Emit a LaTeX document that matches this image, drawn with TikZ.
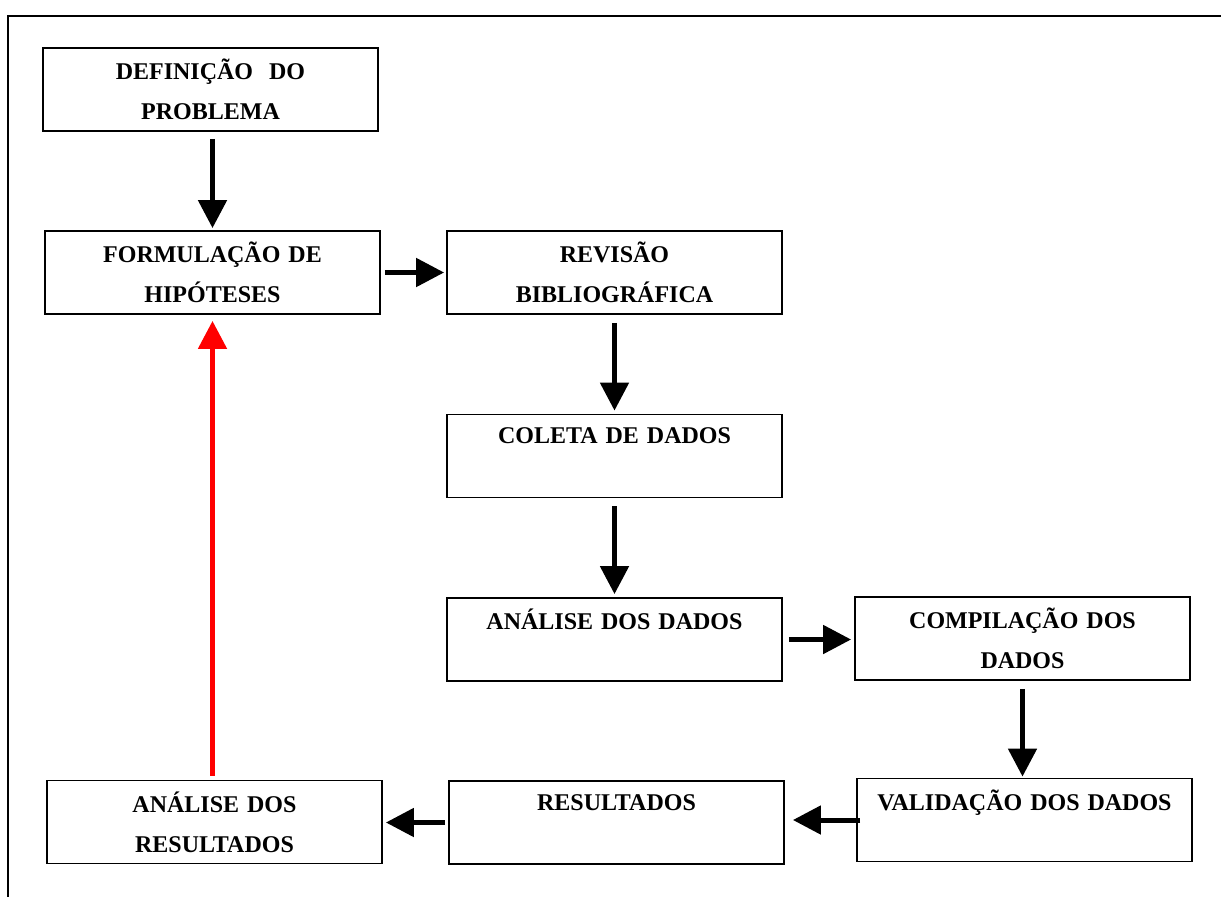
\documentclass[tikz,border=0pt]{standalone}
\usepackage{fontspec}
\setmainfont{Liberation Serif}
\usetikzlibrary{arrows.meta}
\tikzset{
  etapa/.style={draw, line width=1.8pt, minimum width=335pt, minimum height=83pt,
    text width=325pt, inner sep=0pt, align=center,
    font=\fontsize{24}{40}\selectfont\bfseries},
  seta/.style={line width=5pt, -{Triangle[width=28pt,length=28pt]}},
}
\begin{document}
\begin{tikzpicture}[x=1pt,y=-1pt]
  \useasboundingbox (0,0) rectangle (1221,897);
  \draw[line width=1.8pt] (8,897) -- (8,16) -- (1221,16);
  % etapas
  \node[etapa] (def) at (210.5,89.5) {DEFINIÇÃO~~DO\\PROBLEMA};
  \node[etapa] (form) at (212.5,272.5) {FORMULAÇÃO DE\\HIPÓTESES};
  \node[etapa] (rev) at (614.5,272.5) {REVISÃO\\BIBLIOGRÁFICA};
  \node[etapa] (coleta) at (614.5,456) {COLETA DE DADOS\\~};
  \node[etapa] (anadados) at (614.5,639.5) {ANÁLISE DOS DADOS\\~};
  \node[etapa] (comp) at (1022.5,638.5) {COMPILAÇÃO DOS\\DADOS};
  \node[etapa] (valid) at (1024.5,820) {VALIDAÇÃO DOS DADOS\\~};
  \node[etapa] (result) at (616.5,822.5) {RESULTADOS\\~};
  \node[etapa] (anres) at (214.5,822) {ANÁLISE DOS\\RESULTADOS};
  % setas
  \draw[seta, shorten <=7pt, shorten >=2pt] (def.south -| form.north) -- (form.north);
  \draw[seta, shorten <=4pt, shorten >=2pt] (form.east) -- (form.east -| rev.west);
  \draw[seta, shorten <=8pt, shorten >=3pt] (rev.south) -- (rev.south |- coleta.north);
  \draw[seta, shorten <=8pt, shorten >=3pt] (coleta.south) -- (coleta.south |- anadados.north);
  \draw[seta, shorten <=6pt, shorten >=3pt] (anadados.east) -- (anadados.east -| comp.west);
  \draw[seta, shorten <=8pt, shorten >=1pt] (comp.south) -- (comp.south |- valid.north);
  \draw[seta, shorten <=-4pt, shorten >=8pt] (valid.west) -- (valid.west -| result.east);
  \draw[seta, shorten <=3pt, shorten >=3pt] (result.west) -- (result.west -| anres.east);
  \draw[seta, red, shorten <=4pt, shorten >=6pt] (anres.north -| form.south) -- (form.south);
\end{tikzpicture}
\end{document}
